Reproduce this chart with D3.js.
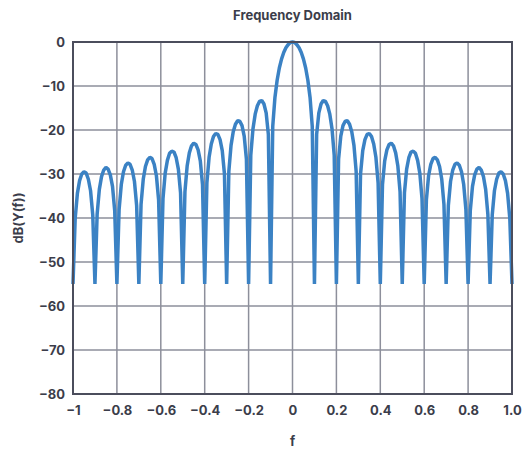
<!DOCTYPE html>
<html>
<head>
<meta charset="utf-8">
<script src="https://cdn.jsdelivr.net/npm/d3@7"></script>
<style>
  html, body { margin: 0; padding: 0; background: #ffffff; }
  svg { display: block; }
  text { font-family: Inter, "Noto Sans", sans-serif; font-weight: 700; fill: #3b3d4a; }
</style>
</head>
<body>
<svg id="chart" width="523" height="451"></svg>
<script>
// Magnitude spectrum in dB, sampled every 0.01 on f in [-1, 1]
const fStart = -1;
const fStep = 0.01;
const dbValues = [
  -55, -40.1, -34.4, -31.5, -30.0, -29.5, -29.8, -31.2, -33.8, -39.3,
  -55, -39.1, -33.5, -30.6, -29.1, -28.5, -28.9, -30.2, -32.8, -38.3,
  -55, -38.1, -32.4, -29.5, -28.0, -27.5, -27.8, -29.1, -31.7, -37.2,
  -55, -36.9, -31.2, -28.3, -26.8, -26.2, -26.5, -27.8, -30.4, -35.9,
  -55, -35.6, -29.8, -26.9, -25.3, -24.8, -25.0, -26.3, -28.9, -34.3,
  -55, -34.0, -28.2, -25.2, -23.6, -23.0, -23.3, -24.5, -27.0, -32.4,
  -55, -32.0, -26.2, -23.2, -21.5, -20.8, -21.0, -22.2, -24.7, -30.0,
  -55, -29.4, -23.5, -20.4, -18.7, -17.9, -18.0, -19.0, -21.4, -26.6,
  -55, -25.7, -19.7, -16.4, -14.5, -13.5, -13.3, -14.1, -16.1, -21.0,
  -55, -19.2, -12.6, -8.7, -5.9, -3.9, -2.4, -1.3, -0.6, -0.1,
  0,
  -0.1, -0.6, -1.3, -2.4, -3.9, -5.9, -8.7, -12.6, -19.2, -55,
  -21.0, -16.1, -14.1, -13.3, -13.5, -14.5, -16.4, -19.7, -25.7, -55,
  -26.6, -21.4, -19.0, -18.0, -17.9, -18.7, -20.4, -23.5, -29.4, -55,
  -30.0, -24.7, -22.2, -21.0, -20.8, -21.5, -23.2, -26.2, -32.0, -55,
  -32.4, -27.0, -24.5, -23.3, -23.0, -23.6, -25.2, -28.2, -34.0, -55,
  -34.3, -28.9, -26.3, -25.0, -24.8, -25.3, -26.9, -29.8, -35.6, -55,
  -35.9, -30.4, -27.8, -26.5, -26.2, -26.8, -28.3, -31.2, -36.9, -55,
  -37.2, -31.7, -29.1, -27.8, -27.5, -28.0, -29.5, -32.4, -38.1, -55,
  -38.3, -32.8, -30.2, -28.9, -28.5, -29.1, -30.6, -33.5, -39.1, -55,
  -39.3, -33.8, -31.2, -29.8, -29.5, -30.0, -31.5, -34.4, -40.1, -55
];

const xTicks = [-1, -0.8, -0.6, -0.4, -0.2, 0, 0.2, 0.4, 0.6, 0.8, 1];
const xTickLabels = ["\u22121", "\u22120.8", "\u22120.6", "\u22120.4", "\u22120.2", "0", "0.2", "0.4", "0.6", "0.8", "1.0"];
const yTicks = [0, -10, -20, -30, -40, -50, -60, -70, -80];
const yTickLabels = ["0", "\u221210", "\u221220", "\u221230", "\u221240", "\u221250", "\u221260", "\u221270", "\u221280"];

const titleText = "Frequency Domain";
const xLabelText = "f";
const yLabelText = "dB(Y(f))";

const margin = { left: 73, right: 11, top: 42, bottom: 57 };
const W = 523, H = 451;
const svg = d3.select("#chart");

const x = d3.scaleLinear().domain([-1, 1]).range([margin.left, W - margin.right]);
const y = d3.scaleLinear().domain([-80, 0]).range([H - margin.bottom, margin.top]);

const points = dbValues.map((v, i) => ({ f: fStart + i * fStep, db: v }));

// grid
const grid = svg.append("g");
grid.selectAll("line.vx").data(xTicks.slice(1, -1)).join("line")
  .attr("x1", d => x(d)).attr("x2", d => x(d))
  .attr("y1", y(0)).attr("y2", y(-80))
  .attr("stroke", "#8d8f9b").attr("stroke-width", 1.5);
grid.selectAll("line.hy").data(yTicks.slice(1, -1)).join("line")
  .attr("x1", x(-1)).attr("x2", x(1))
  .attr("y1", d => y(d)).attr("y2", d => y(d))
  .attr("stroke", "#8d8f9b").attr("stroke-width", 1.5);

// spectrum curve
const line = d3.line().x(d => x(d.f)).y(d => y(d.db)).curve(d3.curveLinear);
svg.append("path").datum(points)
  .attr("d", line)
  .attr("fill", "none")
  .attr("stroke", "#3b82c4")
  .attr("stroke-width", 3.5)
  .attr("stroke-linejoin", "bevel");

// frame
svg.append("rect")
  .attr("x", x(-1)).attr("y", y(0))
  .attr("width", x(1) - x(-1)).attr("height", y(-80) - y(0))
  .attr("fill", "none").attr("stroke", "#4b4d5c").attr("stroke-width", 2);

// axes
const xAxis = d3.axisBottom(x).tickValues(xTicks)
  .tickFormat((d, i) => xTickLabels[i]).tickSize(0).tickPadding(12);
const gx = svg.append("g").attr("transform", `translate(0,${y(-80)})`).call(xAxis);
gx.select(".domain").remove();
gx.selectAll("text").style("font-size", "13px").attr("fill", "#3b3d4a")
  .style("font-family", "Inter, 'Noto Sans', sans-serif").style("font-weight", 700);

const yAxis = d3.axisLeft(y).tickValues(yTicks)
  .tickFormat((d, i) => yTickLabels[i]).tickSize(0).tickPadding(8);
const gy = svg.append("g").attr("transform", `translate(${x(-1)},0)`).call(yAxis);
gy.select(".domain").remove();
gy.selectAll("text").style("font-size", "13px").attr("fill", "#3b3d4a")
  .style("font-family", "Inter, 'Noto Sans', sans-serif").style("font-weight", 700);

// titles
svg.append("text").attr("x", x(0)).attr("y", 20).attr("text-anchor", "middle")
  .style("font-size", "13px").text(titleText);
svg.append("text").attr("x", x(0)).attr("y", 446).attr("text-anchor", "middle")
  .style("font-size", "13px").text(xLabelText);
svg.append("text")
  .attr("transform", `translate(18,${(y(0) + y(-80)) / 2}) rotate(-90)`)
  .attr("text-anchor", "middle").attr("dominant-baseline", "central")
  .style("font-size", "13px").text(yLabelText);
</script>
</body>
</html>
